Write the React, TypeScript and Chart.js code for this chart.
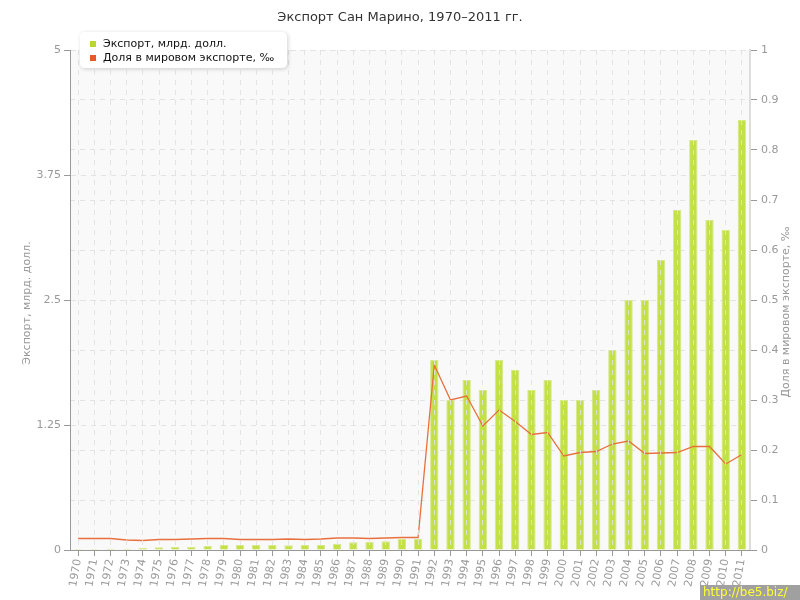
import React, { useEffect, useRef } from "react";
import { Chart, registerables } from "chart.js";

Chart.register(...registerables);

const years: string[] = [
  "1970","1971","1972","1973","1974","1975","1976","1977","1978","1979",
  "1980","1981","1982","1983","1984","1985","1986","1987","1988","1989",
  "1990","1991","1992","1993","1994","1995","1996","1997","1998","1999",
  "2000","2001","2002","2003","2004","2005","2006","2007","2008","2009",
  "2010","2011",
];

const exportValues: number[] = [
  0.01, 0.01, 0.013, 0.013, 0.02, 0.027, 0.03, 0.033, 0.04, 0.05,
  0.05, 0.05, 0.05, 0.048, 0.05, 0.05, 0.063, 0.077, 0.08, 0.087,
  0.113, 0.11, 1.9, 1.5, 1.7, 1.6, 1.9, 1.8, 1.6, 1.7,
  1.5, 1.5, 1.6, 2.0, 2.5, 2.5, 2.9, 3.4, 4.1, 3.3,
  3.2, 4.3,
];

const shareValues: number[] = [
  0.023, 0.023, 0.023, 0.02, 0.019, 0.021, 0.021, 0.022, 0.023, 0.023,
  0.021, 0.021, 0.021, 0.022, 0.021, 0.022, 0.024, 0.024, 0.023, 0.024,
  0.025, 0.025, 0.37, 0.30, 0.308, 0.248, 0.28, 0.257, 0.231, 0.235,
  0.188, 0.195, 0.197, 0.212, 0.218, 0.193, 0.194, 0.195, 0.207, 0.207,
  0.172, 0.191,
];

const titleText = "Экспорт Сан Марино, 1970–2011 гг.";
const leftAxisTitle = "Экспорт, млрд. долл.";
const rightAxisTitle = "Доля в мировом экспорте, ‰";
const legendLabels: string[] = ["Экспорт, млрд. долл.", "Доля в мировом экспорте, ‰"];
const watermark = "http://be5.biz/";

const FONT = "'DejaVu Sans', Verdana, sans-serif";
const GREEN = "#b8d62c";
const ORANGE = "#e35b2a";

const decorPlugin = {
  id: "decor",
  beforeDraw(chart: any) {
    const { ctx, chartArea } = chart;
    ctx.save();
    ctx.fillStyle = "#ffffff";
    ctx.fillRect(0, 0, chart.width, chart.height);
    ctx.fillStyle = "#f9f9f9";
    ctx.fillRect(chartArea.left, chartArea.top, chartArea.right - chartArea.left, chartArea.bottom - chartArea.top);
    ctx.restore();
  },
  afterDraw(chart: any) {
    const { ctx } = chart;
    ctx.save();
    // title
    ctx.fillStyle = "#333333";
    ctx.font = `13px ${FONT}`;
    ctx.textAlign = "center";
    ctx.textBaseline = "middle";
    ctx.fillText(titleText, 400, 18);

    // axis titles
    ctx.fillStyle = "#999999";
    ctx.font = `11px ${FONT}`;
    ctx.save();
    ctx.translate(27, 303);
    ctx.rotate(-Math.PI / 2);
    ctx.fillText(leftAxisTitle, 0, 0);
    ctx.restore();
    ctx.save();
    ctx.translate(786, 312);
    ctx.rotate(-Math.PI / 2);
    ctx.fillText(rightAxisTitle, 0, 0);
    ctx.restore();

    // legend box
    const bx = 80, by = 32, bw = 207, bh = 36, r = 5;
    ctx.save();
    ctx.shadowColor = "rgba(0,0,0,0.18)";
    ctx.shadowBlur = 4;
    ctx.shadowOffsetX = 1;
    ctx.shadowOffsetY = 1;
    ctx.fillStyle = "#ffffff";
    ctx.beginPath();
    ctx.moveTo(bx + r, by);
    ctx.lineTo(bx + bw - r, by);
    ctx.quadraticCurveTo(bx + bw, by, bx + bw, by + r);
    ctx.lineTo(bx + bw, by + bh - r);
    ctx.quadraticCurveTo(bx + bw, by + bh, bx + bw - r, by + bh);
    ctx.lineTo(bx + r, by + bh);
    ctx.quadraticCurveTo(bx, by + bh, bx, by + bh - r);
    ctx.lineTo(bx, by + r);
    ctx.quadraticCurveTo(bx, by, bx + r, by);
    ctx.closePath();
    ctx.fill();
    ctx.restore();

    const colors = [GREEN, ORANGE];
    ctx.font = `11px ${FONT}`;
    ctx.textAlign = "left";
    ctx.textBaseline = "middle";
    legendLabels.forEach((label, i) => {
      const y = 44 + i * 14;
      ctx.fillStyle = colors[i];
      ctx.fillRect(90, y - 3, 6, 6);
      ctx.fillStyle = "#111111";
      ctx.fillText(label, 103, y);
    });

    // watermark
    ctx.fillStyle = "#a0a0a0";
    ctx.fillRect(700, 585, 100, 15);
    ctx.fillStyle = "#ffff33";
    ctx.font = `12px ${FONT}`;
    ctx.textAlign = "left";
    ctx.fillText(watermark, 703, 593);
    ctx.restore();
  },
};

export default function App() {
  const ref = useRef<HTMLCanvasElement | null>(null);
  useEffect(() => {
    if (!ref.current) return;
    const chart = new Chart(ref.current, {
      type: "bar",
      data: {
        labels: years,
        datasets: [
          {
            type: "line",
            label: legendLabels[1],
            data: shareValues,
            yAxisID: "y2",
            borderColor: "#e8703e",
            backgroundColor: ORANGE,
            borderWidth: 1.3,
            pointRadius: 0,
            tension: 0,
            order: 0,
          } as any,
          {
            type: "bar",
            label: legendLabels[0],
            data: exportValues,
            yAxisID: "y",
            backgroundColor: "rgba(192,222,60,0.95)",
            borderColor: "rgba(214,234,140,1)",
            borderWidth: 1,
            barPercentage: 0.52,
            categoryPercentage: 1,
            order: 1,
          },
        ],
      },
      options: {
        responsive: false,
        animation: false,
        layout: { padding: { top: 50, left: 0, right: 0, bottom: 0 } },
        plugins: {
          legend: { display: false },
          title: { display: false },
          tooltip: { enabled: false },
        },
        scales: {
          x: {
            offset: true,
            afterFit(scale: any) { scale.height = 50; },
            grid: {
              offset: false,
              color: "rgba(225,225,225,0.9)",
              borderDash: [5, 5],
              tickColor: "#999999",
              tickLength: 6,
              z: 1,
            } as any,
            border: { color: "#999999", width: 1, dash: [5, 5], z: 1 } as any,
            ticks: {
              autoSkip: false,
              minRotation: 80,
              maxRotation: 80,
              color: "#999999",
              font: { family: FONT, size: 11 },
              padding: 2,
            },
          },
          y: {
            position: "left",
            min: 0,
            max: 5,
            afterFit(scale: any) { scale.width = 70; },
            grid: {
              color: "#e3e3e3",
              borderDash: [5, 5],
              tickColor: "#999999",
              tickLength: 6,
            } as any,
            border: { color: "#999999", width: 1, dash: [5, 5] } as any,
            ticks: {
              stepSize: 1.25,
              color: "#999999",
              font: { family: FONT, size: 11 },
              padding: 3,
              callback: (v: any) => String(v),
            },
          },
          y2: {
            position: "right",
            min: 0,
            max: 1,
            afterFit(scale: any) { scale.width = 50; },
            grid: {
              color: "#e3e3e3",
              borderDash: [5, 5],
              tickColor: "#999999",
              tickLength: 7,
            } as any,
            border: { color: "#dddddd", width: 2, dash: [5, 5] } as any,
            ticks: {
              stepSize: 0.1,
              color: "#999999",
              font: { family: FONT, size: 11 },
              padding: 4,
              callback: (v: any) => String(Math.round(Number(v) * 10) / 10),
            },
          },
        },
      },
      plugins: [decorPlugin],
    });
    return () => chart.destroy();
  }, []);
  return (
    <div style={{ position: "absolute", left: 0, top: 0, width: 800, height: 600 }}>
      <canvas ref={ref} width={800} height={600} style={{ display: "block" }} />
    </div>
  );
}
